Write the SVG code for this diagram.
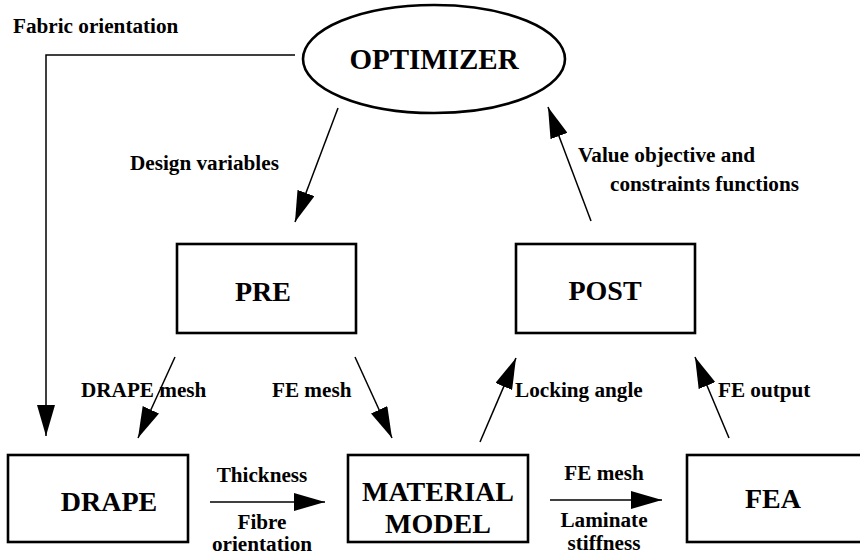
<svg xmlns="http://www.w3.org/2000/svg" width="860" height="556" viewBox="0 0 860 556">
<style>
.node{fill:#fff;stroke:#000;stroke-width:2.6}
.nt{font-family:"Liberation Serif","Times New Roman",serif;font-weight:bold;font-size:28px;fill:#000;text-anchor:middle}
.lb{font-family:"Liberation Serif","Times New Roman",serif;font-weight:bold;font-size:21.2px;fill:#000}
.mid{text-anchor:middle}
.conn{fill:none;stroke:#000;stroke-width:1.5;marker-end:url(#ah)}
</style>
<defs>
<marker id="ah" markerUnits="userSpaceOnUse" markerWidth="31" markerHeight="18" refX="31" refY="9" orient="auto">
<path d="M0 0 L31 9 L0 18 Z" fill="#000"/>
</marker>
</defs>
<rect width="860" height="556" fill="#fff"/>
<g id="connectors">
<path class="conn" d="M295 55 H46 V436"/>
<line class="conn" x1="338" y1="108" x2="295" y2="222"/>
<line class="conn" x1="591" y1="221" x2="548" y2="107"/>
<line class="conn" x1="175" y1="357" x2="138" y2="438"/>
<line class="conn" x1="355" y1="357" x2="392" y2="438"/>
<line class="conn" x1="480" y1="442" x2="516" y2="358"/>
<line class="conn" x1="729" y1="438" x2="695" y2="357"/>
<line class="conn" x1="210" y1="502" x2="325" y2="502"/>
<line class="conn" x1="550" y1="500" x2="662" y2="500"/>
</g>
<g id="labels">
<text class="lb" x="13" y="33">Fabric orientation</text>
<text class="lb" x="130" y="170">Design variables</text>
<text class="lb" x="578" y="162">Value objective and</text>
<text class="lb" x="610" y="191">constraints functions</text>
<text class="lb" x="81" y="397">DRAPE mesh</text>
<text class="lb" x="272" y="397">FE mesh</text>
<text class="lb" x="515" y="397">Locking angle</text>
<text class="lb" x="718" y="397">FE output</text>
<text class="lb mid" x="262" y="482">Thickness</text>
<text class="lb mid" x="262" y="529">Fibre</text>
<text class="lb mid" x="262" y="551">orientation</text>
<text class="lb mid" x="604" y="480">FE mesh</text>
<text class="lb mid" x="604" y="527">Laminate</text>
<text class="lb mid" x="604" y="550">stiffness</text>
</g>
<g id="optimizer">
<ellipse class="node" cx="434" cy="59" rx="131" ry="54"/>
<text class="nt" x="434" y="69" style="font-size:29px">OPTIMIZER</text>
</g>
<g id="pre">
<rect class="node" x="177" y="244" width="179" height="89"/>
<text class="nt" x="263" y="301">PRE</text>
</g>
<g id="post">
<rect class="node" x="516" y="244" width="179" height="89"/>
<text class="nt" x="605" y="300">POST</text>
</g>
<g id="drape">
<rect class="node" x="8" y="455" width="180" height="87"/>
<text class="nt" x="109" y="511">DRAPE</text>
</g>
<g id="material">
<rect class="node" x="348" y="455" width="180" height="87"/>
<text class="nt" x="438" y="501">MATERIAL</text>
<text class="nt" x="438" y="533">MODEL</text>
</g>
<g id="fea">
<rect class="node" x="687" y="455" width="180" height="87"/>
<text class="nt" x="773" y="508">FEA</text>
</g>
</svg>
